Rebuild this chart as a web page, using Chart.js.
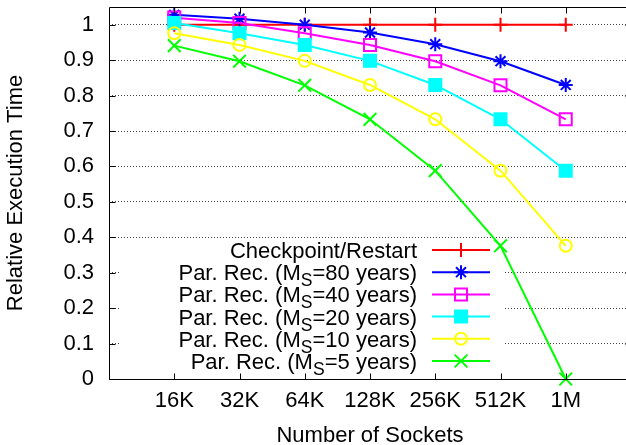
<!DOCTYPE html>
<html><head><meta charset="utf-8">
<script src="https://cdn.jsdelivr.net/npm/chart.js@4/dist/chart.umd.min.js"></script>
<style>
html,body{margin:0;padding:0;background:#fff;overflow:hidden;width:626px;height:445px}
#wrap{position:absolute;left:0;top:0;width:640px;height:445px}
</style>
</head><body><div id="wrap"><canvas id="c" width="640" height="445"></canvas></div>
<script>
// ---- data ----
const xLabels = ['16K', '32K', '64K', '128K', '256K', '512K', '1M'];
const yTickValues = [0, 0.1, 0.2, 0.3, 0.4, 0.5, 0.6, 0.7, 0.8, 0.9, 1];
const checkpointRestart = [1, 1, 1, 1, 1, 1, 1];
const parRec80 = [1.028, 1.017, 1.0, 0.978, 0.945, 0.897, 0.830];
const parRec40 = [1.020, 1.005, 0.976, 0.943, 0.897, 0.829, 0.733];
const parRec20 = [1.005, 0.976, 0.943, 0.898, 0.830, 0.733, 0.588];
const parRec10 = [0.976, 0.943, 0.898, 0.830, 0.733, 0.588, 0.376];
const parRec5  = [0.941, 0.897, 0.829, 0.733, 0.588, 0.376, 0.0];
// legend label parts: [main, subscript, rest]
const seriesLabels = [
  ['Checkpoint/Restart', '', ''],
  ['Par. Rec. (M', 'S', '=80 years)'],
  ['Par. Rec. (M', 'S', '=40 years)'],
  ['Par. Rec. (M', 'S', '=20 years)'],
  ['Par. Rec. (M', 'S', '=10 years)'],
  ['Par. Rec. (M', 'S', '=5 years)']
];
const xTitle = 'Number of Sockets';
const yTitle = 'Relative Execution Time';

const FONT = '"Liberation Sans", Arial, Helvetica, sans-serif';
const styles = [
  {color: '#ff0000', pointStyle: 'cross',    radius: 7,   fill: 'rgba(0,0,0,0)'},
  {color: '#0000ff', pointStyle: 'star',     radius: 7,   fill: 'rgba(0,0,0,0)'},
  {color: '#ff00ff', pointStyle: 'rect',     radius: 8.5, fill: 'rgba(0,0,0,0)'},
  {color: '#00ffff', pointStyle: 'rect',     radius: 8.5, fill: '#00ffff'},
  {color: '#ffff00', pointStyle: 'circle',   radius: 6,   fill: 'rgba(0,0,0,0)'},
  {color: '#00ff00', pointStyle: 'crossRot', radius: 9,   fill: 'rgba(0,0,0,0)'}
];
const seriesValues = [checkpointRestart, parRec80, parRec40, parRec20, parRec10, parRec5];

const datasets = seriesValues.map((vals, i) => ({
  label: seriesLabels[i].join(''),
  data: vals.map((v, j) => ({x: j, y: v})),
  borderColor: styles[i].color,
  backgroundColor: styles[i].fill,
  pointBorderColor: styles[i].color,
  pointBackgroundColor: styles[i].fill,
  pointStyle: styles[i].pointStyle,
  pointRadius: styles[i].radius,
  pointBorderWidth: 2,
  borderWidth: 2,
  tension: 0,
  fill: false,
  clip: false,
  order: seriesValues.length - i
}));

const frame = {
  id: 'frame',
  beforeDatasetsDraw(chart) {
    const ctx = chart.ctx;
    const L = 121, T = 239, R = 503, B = 374;
    ctx.save();
    ctx.fillStyle = '#fff';
    ctx.fillRect(L, T, R - L, B - T);
    const textRight = 417, lineL = 432, lineR = 490, mk = 461;
    seriesLabels.forEach((parts, i) => {
      const y = 250 + 22.2 * i;
      const mainFont = '22px ' + FONT, subFont = '17.6px ' + FONT;
      ctx.font = mainFont; const w1 = ctx.measureText(parts[0]).width; const w3 = ctx.measureText(parts[2]).width;
      ctx.font = subFont; const w2 = parts[1] ? ctx.measureText(parts[1]).width : 0;
      let x = textRight - (w1 + w2 + w3);
      ctx.fillStyle = '#000';
      ctx.textAlign = 'left';
      ctx.textBaseline = 'alphabetic';
      const base = y + 8;
      ctx.font = mainFont; ctx.fillText(parts[0], x, base); x += w1;
      if (parts[1]) { ctx.font = subFont; ctx.fillText(parts[1], x, base + 6); x += w2; }
      ctx.font = mainFont; ctx.fillText(parts[2], x, base);
      const st = styles[i];
      ctx.strokeStyle = st.color; ctx.lineWidth = 2; ctx.setLineDash([]);
      ctx.beginPath(); ctx.moveTo(lineL, y); ctx.lineTo(lineR, y); ctx.stroke();
      ctx.fillStyle = st.fill;
      Chart.helpers.drawPoint(ctx, {pointStyle: st.pointStyle, radius: st.radius, borderWidth: 2, rotation: 0}, mk, y);
    });
    ctx.restore();
  },
  afterDraw(chart) {
    const ctx = chart.ctx;
    const xs = chart.scales.x, ys = chart.scales.y;
    ctx.save();
    ctx.strokeStyle = '#000'; ctx.lineWidth = 1; ctx.setLineDash([]);
    const l = Math.round(xs.left) + 0.5, r = Math.round(xs.right) + 0.5;
    const t = Math.round(ys.top) + 0.5, b = Math.round(ys.bottom) + 0.5;
    ctx.beginPath();
    ctx.moveTo(l, b); ctx.lineTo(l, t); ctx.lineTo(r, t); ctx.lineTo(r, b); ctx.closePath();
    xLabels.forEach((_, i) => {
      const px = Math.round(xs.getPixelForValue(i)) + 0.5;
      ctx.moveTo(px, b); ctx.lineTo(px, b - 6);
      ctx.moveTo(px, t); ctx.lineTo(px, t + 6);
    });
    yTickValues.forEach(v => {
      const py = Math.round(ys.getPixelForValue(v)) + 0.5;
      ctx.moveTo(l, py); ctx.lineTo(l + 6, py);
      ctx.moveTo(r, py); ctx.lineTo(r - 6, py);
    });
    ctx.stroke();
    ctx.restore();
  }
};

new Chart(document.getElementById('c'), {
  type: 'line',
  data: {datasets},
  options: {
    responsive: false,
    animation: false,
    devicePixelRatio: 1,
    layout: {autoPadding: false, padding: {left: 0, top: 7, right: 9, bottom: 0}},
    plugins: {legend: {display: false}, tooltip: {enabled: false}},
    scales: {
      x: {
        type: 'linear', min: -1, max: 7,
        afterFit(s) { s.height = 66; s.paddingLeft = 0; s.paddingRight = 0; },
        afterBuildTicks(s) { s.ticks = xLabels.map((_, i) => ({value: i})); },
        grid: {display: false, drawTicks: false},
        border: {display: false},
        ticks: {
          padding: 9, color: '#000', font: {family: FONT, size: 22}, maxRotation: 0, autoSkip: false,
          callback: v => xLabels[v] !== undefined ? xLabels[v] : ''
        },
        title: {display: true, text: xTitle, color: '#000', font: {family: FONT, size: 22, lineHeight: 0.8}, padding: {top: 0, bottom: 0}}
      },
      y: {
        type: 'linear', min: 0, max: 1.05,
        afterFit(s) { s.width = 109; s.paddingTop = 0; s.paddingBottom = 0; },
        afterBuildTicks(s) { s.ticks = yTickValues.map(v => ({value: v})); },
        grid: {display: true, drawTicks: false, color: '#444', lineWidth: 1},
        border: {display: false, dash: [1, 2]},
        ticks: {
          padding: 15, color: '#000', font: {family: FONT, size: 22},
          callback: v => String(Number(v.toFixed(1)))
        },
        title: {display: true, text: yTitle, color: '#000', font: {family: FONT, size: 22}, padding: {top: 2.5, bottom: 0}}
      }
    }
  },
  plugins: [frame]
});
</script>
</body></html>
